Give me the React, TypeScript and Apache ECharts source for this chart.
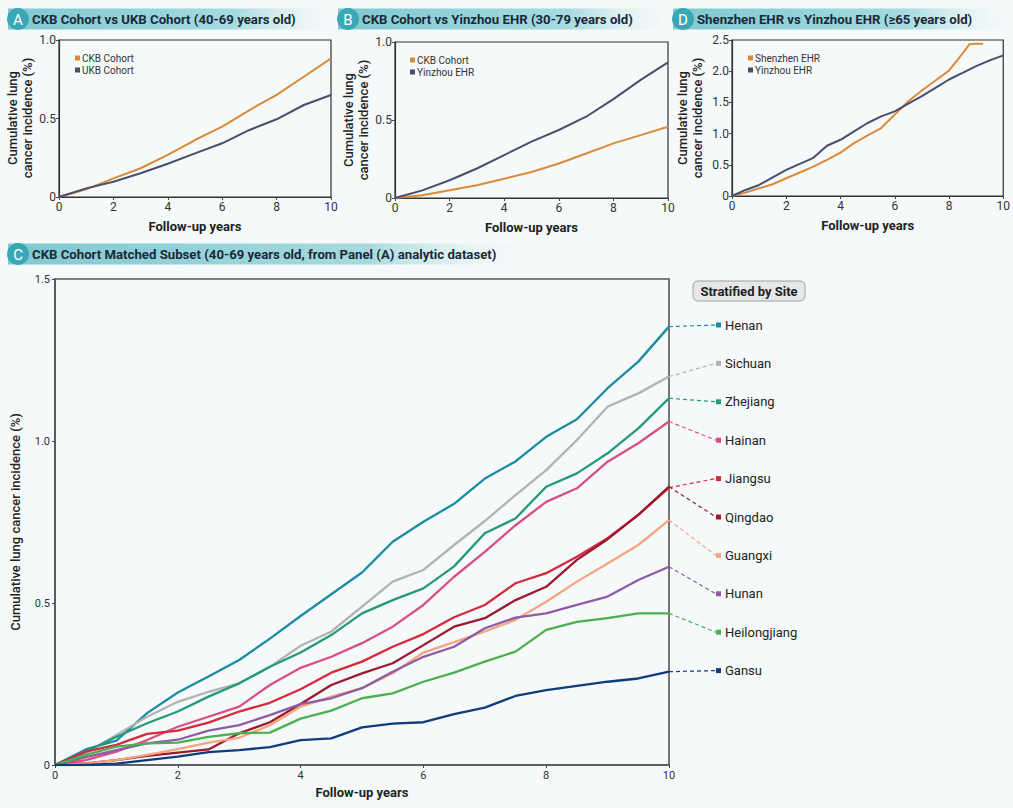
import React, { useEffect, useRef } from "react";
import * as echarts from "echarts";

// ---------- data ----------
const yearsFull = [0, 1, 2, 3, 4, 5, 6, 7, 8, 9, 10];
const yearsHalf = [0, 0.5, 1, 1.5, 2, 2.5, 3, 3.5, 4, 4.5, 5, 5.5, 6, 6.5, 7, 7.5, 8, 8.5, 9, 9.5, 10];

// Panel A
const ckbA = [0, 0.049, 0.119, 0.183, 0.268, 0.363, 0.448, 0.554, 0.65, 0.766, 0.883];
const ukbA = [0, 0.055, 0.097, 0.151, 0.212, 0.278, 0.342, 0.427, 0.495, 0.586, 0.65];

// Panel B
const ckbB = [0, 0.017, 0.049, 0.082, 0.124, 0.167, 0.221, 0.285, 0.35, 0.403, 0.457];
const yinzhouB = [0, 0.049, 0.114, 0.189, 0.275, 0.361, 0.436, 0.521, 0.634, 0.757, 0.869];

// Panel D
const shenzhenYears = [0, 0.5, 1, 1.5, 2, 2.5, 3, 3.5, 4, 4.5, 5, 5.5, 6, 6.5, 7, 7.5, 8, 8.5, 8.75, 9, 9.25];
const shenzhenD = [0, 0.054, 0.123, 0.188, 0.284, 0.376, 0.472, 0.58, 0.695, 0.848, 0.97, 1.089, 1.304, 1.518, 1.69, 1.85, 2.01, 2.285, 2.43, 2.44, 2.44];
const yinzhouD = [0, 0.097, 0.177, 0.3, 0.418, 0.515, 0.612, 0.805, 0.901, 1.035, 1.17, 1.277, 1.357, 1.481, 1.599, 1.733, 1.867, 1.974, 2.082, 2.173, 2.253];

// Panel C (by site)
const siteNames = ["Henan", "Sichuan", "Zhejiang", "Hainan", "Jiangsu", "Qingdao", "Guangxi", "Hunan", "Heilongjiang", "Gansu"];
const henan = [0, 0.048, 0.075, 0.16, 0.224, 0.273, 0.324, 0.39, 0.46, 0.527, 0.594, 0.689, 0.751, 0.806, 0.884, 0.937, 1.013, 1.067, 1.163, 1.245, 1.353];
const sichuan = [0, 0.036, 0.093, 0.149, 0.195, 0.226, 0.252, 0.303, 0.368, 0.412, 0.489, 0.566, 0.602, 0.679, 0.753, 0.833, 0.91, 1.003, 1.106, 1.147, 1.199];
const zhejiang = [0, 0.041, 0.087, 0.129, 0.165, 0.211, 0.252, 0.303, 0.347, 0.401, 0.468, 0.509, 0.545, 0.613, 0.715, 0.761, 0.859, 0.9, 0.962, 1.039, 1.132];
const hainan = [0, 0.015, 0.041, 0.077, 0.118, 0.149, 0.18, 0.247, 0.3, 0.334, 0.376, 0.427, 0.494, 0.581, 0.658, 0.74, 0.812, 0.854, 0.936, 0.993, 1.06];
const jiangsu = [0, 0.041, 0.062, 0.096, 0.106, 0.131, 0.165, 0.192, 0.234, 0.285, 0.319, 0.365, 0.404, 0.456, 0.494, 0.561, 0.592, 0.643, 0.7, 0.772, 0.856];
const qingdao = [0, 0.005, 0.015, 0.028, 0.038, 0.048, 0.098, 0.132, 0.188, 0.247, 0.283, 0.314, 0.37, 0.427, 0.453, 0.509, 0.55, 0.633, 0.697, 0.772, 0.859];
const guangxi = [0, 0.004, 0.015, 0.031, 0.049, 0.069, 0.084, 0.123, 0.18, 0.211, 0.237, 0.283, 0.347, 0.379, 0.412, 0.448, 0.504, 0.566, 0.622, 0.679, 0.756];
const hunan = [0, 0.024, 0.046, 0.067, 0.078, 0.106, 0.123, 0.154, 0.188, 0.206, 0.237, 0.288, 0.334, 0.365, 0.422, 0.455, 0.468, 0.494, 0.52, 0.571, 0.612];
const heilongjiang = [0, 0.031, 0.057, 0.067, 0.069, 0.087, 0.098, 0.1, 0.143, 0.168, 0.206, 0.221, 0.257, 0.285, 0.319, 0.35, 0.417, 0.442, 0.453, 0.468, 0.468];
const gansu = [0, 0, 0.004, 0.015, 0.026, 0.04, 0.046, 0.055, 0.077, 0.082, 0.116, 0.128, 0.132, 0.157, 0.177, 0.213, 0.231, 0.244, 0.257, 0.267, 0.288];
const siteValues = [henan, sichuan, zhejiang, hainan, jiangsu, qingdao, guangxi, hunan, heilongjiang, gansu];
const siteColors = ["#1a8ca4", "#b3b3b3", "#239a78", "#d94f82", "#d42a3c", "#9c1a2e", "#f4a582", "#8e5ca6", "#4caf50", "#0e3d7d"];

const ORANGE = "#d98b3a";
const NAVY = "#46506e";
const BG = "#f5f9f9";
const FONT = "Roboto";

const pairs = (xs: number[], ys: number[]) => ys.map((y, i) => [xs[i], y]);
const fmtY = (v: number) => (v === 0 ? "0" : v.toFixed(1));

function xAxisCfg(gridIndex: number, small: boolean) {
  return {
    gridIndex,
    type: "value",
    min: 0,
    max: 10,
    interval: 2,
    axisLine: { show: true, lineStyle: { color: small ? "#333" : "#555", width: small ? 1.2 : 1.6 } },
    axisTick: { show: true, length: 3, lineStyle: { color: "#444" } },
    axisLabel: { fontSize: small ? 12 : 11, color: "#333", margin: small ? 4 : 5, fontFamily: FONT },
    splitLine: { show: false },
    name: "Follow-up years",
    nameLocation: "middle",
    nameGap: small ? 23 : 21,
    nameTextStyle: { fontSize: 13, fontWeight: "bold", color: "#222", fontFamily: FONT },
  };
}

function yAxisCfg(gridIndex: number, max: number, small: boolean) {
  return {
    gridIndex,
    type: "value",
    min: 0,
    max,
    interval: 0.5,
    axisLine: { show: true, lineStyle: { color: small ? "#333" : "#555", width: small ? 1.2 : 1.6 } },
    axisTick: { show: true, length: 3, lineStyle: { color: "#444" } },
    axisLabel: { fontSize: small ? 12 : 11, color: "#333", margin: small ? 3 : 5, fontFamily: FONT, formatter: fmtY },
    splitLine: { show: false },
  };
}

function lineSeries(name: string, data: number[][], color: string, idx: number, width: number) {
  return {
    name,
    type: "line",
    xAxisIndex: idx,
    yAxisIndex: idx,
    data,
    showSymbol: false,
    symbol: "none",
    lineStyle: { color, width },
    itemStyle: { color },
    emphasis: { disabled: true },
  };
}

function legendCfg(names: string[], left: number, top: number) {
  return {
    data: names,
    orient: "vertical",
    left,
    top,
    icon: "rect",
    itemWidth: 5,
    itemHeight: 5,
    itemGap: 2,
    selectedMode: false,
    textStyle: { fontSize: 10, color: "#333", fontFamily: FONT, padding: [0, 0, 0, -3] },
  };
}

function header(letter: string, title: string, x: number, y: number, bannerW: number) {
  return [
    {
      type: "rect",
      shape: { x: x, y: y - 10.5, width: bannerW, height: 21 },
      style: {
        fill: new echarts.graphic.LinearGradient(0, 0, 1, 0, [
          { offset: 0, color: "#80c9d2" },
          { offset: 0.7, color: "#a6dae0" },
          { offset: 1, color: "rgba(220,242,244,0)" },
        ]),
      },
      silent: true,
    },
    { type: "circle", shape: { cx: x + 10, cy: y, r: 11 }, style: { fill: "#3aa6b6" }, silent: true },
    {
      type: "text",
      x: x + 10,
      y: y + 0.5,
      style: { text: letter, fill: "#ffffff", font: `15px ${FONT}`, align: "center", verticalAlign: "middle" },
      silent: true,
    },
    {
      type: "text",
      x: x + 24,
      y: y,
      style: { text: title, fill: "#1b2a38", font: `bold 13.2px ${FONT}`, align: "left", verticalAlign: "middle" },
      silent: true,
    },
  ];
}

function yName(text: string, x: number, y: number, lh: number) {
  return {
    type: "text",
    x,
    y,
    rotation: Math.PI / 2,
    style: { text, fill: "#222", font: `500 13px ${FONT}`, align: "center", verticalAlign: "middle", lineHeight: lh },
    silent: true,
  };
}

export default function App() {
  const ref = useRef<HTMLDivElement>(null);

  useEffect(() => {
    document.body.style.margin = "0";
    document.body.style.background = BG;
    const chart = echarts.init(ref.current as HTMLDivElement, null, { renderer: "svg" });

    const series: any[] = [
      lineSeries("CKB Cohort", pairs(yearsFull, ckbA), ORANGE, 0, 2),
      lineSeries("UKB Cohort", pairs(yearsFull, ukbA), NAVY, 0, 2),
      lineSeries("CKB Cohort", pairs(yearsFull, ckbB), ORANGE, 1, 2),
      lineSeries("Yinzhou EHR", pairs(yearsFull, yinzhouB), NAVY, 1, 2),
      lineSeries("Shenzhen EHR", pairs(shenzhenYears, shenzhenD), ORANGE, 2, 2),
      lineSeries("Yinzhou EHR", pairs(yearsHalf, yinzhouD), NAVY, 2, 2),
    ];
    siteNames.forEach((n, i) => {
      series.push(lineSeries(n, pairs(yearsHalf, siteValues[i]), siteColors[i], 3, 2.3));
    });

    const option: any = {
      animation: false,
      backgroundColor: BG,
      textStyle: { fontFamily: FONT },
      grid: [
        { left: 59, top: 40, width: 272, height: 157, show: true, borderColor: "#333", borderWidth: 1.2, backgroundColor: "transparent" },
        { left: 395, top: 42, width: 273, height: 156, show: true, borderColor: "#333", borderWidth: 1.2, backgroundColor: "transparent" },
        { left: 732, top: 40, width: 272, height: 156, show: true, borderColor: "#333", borderWidth: 1.2, backgroundColor: "transparent" },
        { left: 55, top: 279, width: 614, height: 486, show: true, borderColor: "#555", borderWidth: 1.6, backgroundColor: "transparent" },
      ],
      xAxis: [xAxisCfg(0, true), xAxisCfg(1, true), xAxisCfg(2, true), xAxisCfg(3, false)],
      yAxis: [yAxisCfg(0, 1, true), yAxisCfg(1, 1, true), yAxisCfg(2, 2.5, true), yAxisCfg(3, 1.5, false)],
      legend: [
        legendCfg(["CKB Cohort", "UKB Cohort"], 70, 48),
        legendCfg(["CKB Cohort", "Yinzhou EHR"], 405, 50),
        legendCfg(["Shenzhen EHR", "Yinzhou EHR"], 743, 48),
      ],
      series,
    };
    chart.setOption(option);

    const graphics: any[] = [
      ...header("A", "CKB Cohort vs UKB Cohort (40-69 years old)", 8, 19, 325),
      ...header("B", "CKB Cohort vs Yinzhou EHR (30-79 years old)", 338, 19, 330),
      ...header("D", "Shenzhen EHR vs Yinzhou EHR (\u226565 years old)", 673, 19, 335),
      ...header("C", "CKB Cohort Matched Subset (40-69 years old, from Panel (A) analytic dataset)", 8, 254, 515),
      yName("Cumulative lung\ncancer incidence (%)", 20, 118, 15),
      yName("Cumulative lung\ncancer incidence (%)", 356, 120, 15),
      yName("Cumulative lung\ncancer incidence (%)", 690, 118, 15),
      yName("Cumulative lung cancer incidence (%)", 15, 522, 15),
      {
        type: "rect",
        shape: { x: 693, y: 281, width: 112, height: 20, r: 5 },
        style: { fill: "#e6e7e7", stroke: "#a0a0a0", lineWidth: 1 },
        silent: true,
      },
      {
        type: "text",
        x: 749,
        y: 291,
        style: { text: "Stratified by Site", fill: "#222", font: `bold 13px ${FONT}`, align: "center", verticalAlign: "middle" },
        silent: true,
      },
    ];

    siteNames.forEach((n, i) => {
      const vals = siteValues[i];
      const end = chart.convertToPixel({ gridIndex: 3 }, [10, vals[vals.length - 1]]) as number[];
      const ly = 325 + i * 38.4;
      graphics.push({
        type: "line",
        shape: { x1: end[0], y1: end[1], x2: 716, y2: ly },
        style: { stroke: siteColors[i], lineWidth: 1.2, lineDash: [4, 3] },
        silent: true,
      });
      graphics.push({
        type: "rect",
        shape: { x: 716, y: ly - 2.5, width: 5, height: 5 },
        style: { fill: siteColors[i] },
        silent: true,
      });
      graphics.push({
        type: "text",
        x: 725,
        y: ly,
        style: { text: n, fill: "#222", font: `13px ${FONT}`, align: "left", verticalAlign: "middle" },
        silent: true,
      });
    });

    chart.setOption({ graphic: graphics });

    return () => {
      chart.dispose();
    };
  }, []);

  return (
    <div
      ref={ref}
      style={{ position: "absolute", left: 0, top: 0, width: 1013, height: 808, background: BG }}
    />
  );
}
